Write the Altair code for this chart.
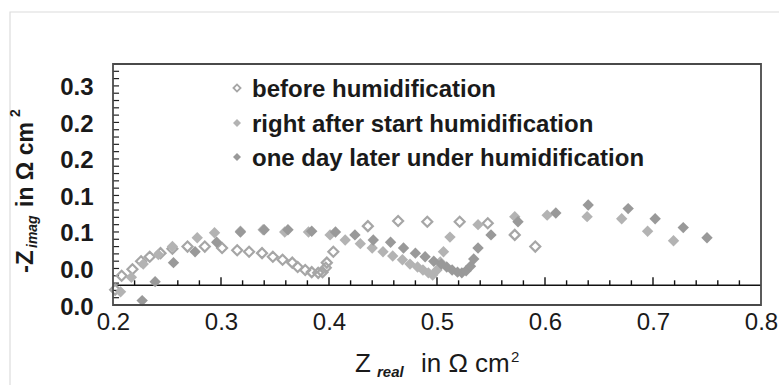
import altair as alt
import pandas as pd

FONT = "Liberation Sans"

SERIES = ["before humidification",
          "right after start humidification",
          "one day later under humidification"]

# before humidification (open diamonds)
before_x = [0.202, 0.208, 0.218, 0.226, 0.234, 0.244, 0.255, 0.269, 0.285, 0.301,
            0.315, 0.326, 0.338, 0.348, 0.357, 0.366, 0.371, 0.378, 0.384, 0.390,
            0.394, 0.397, 0.398, 0.404, 0.436, 0.464, 0.491, 0.521, 0.547, 0.572, 0.591]
before_y = [0.021, 0.040, 0.049, 0.060, 0.066, 0.071, 0.077, 0.080, 0.080, 0.078,
            0.075, 0.073, 0.071, 0.066, 0.062, 0.058, 0.052, 0.048, 0.045, 0.044,
            0.045, 0.051, 0.058, 0.073, 0.108, 0.115, 0.114, 0.114, 0.112, 0.096, 0.080]

# right after start humidification (light filled diamonds)
after_x = [0.207, 0.217, 0.228, 0.242, 0.255, 0.278, 0.294, 0.318, 0.339, 0.359,
           0.381, 0.401, 0.415, 0.429, 0.440, 0.450, 0.459, 0.468, 0.475, 0.482,
           0.487, 0.492, 0.496, 0.500, 0.503, 0.506, 0.512, 0.538, 0.572, 0.602,
           0.639, 0.671, 0.695, 0.719]
after_y = [0.018, 0.038, 0.056, 0.069, 0.080, 0.092, 0.099, 0.101, 0.103, 0.100,
           0.100, 0.096, 0.089, 0.084, 0.078, 0.073, 0.067, 0.062, 0.056, 0.052,
           0.048, 0.044, 0.041, 0.048, 0.059, 0.073, 0.093, 0.110, 0.121, 0.123,
           0.121, 0.118, 0.101, 0.088]

# one day later under humidification (darker filled diamonds)
day_x = [0.227, 0.239, 0.256, 0.276, 0.296, 0.318, 0.340, 0.362, 0.384, 0.406,
         0.424, 0.441, 0.457, 0.469, 0.480, 0.489, 0.497, 0.504, 0.509, 0.514,
         0.519, 0.523, 0.527, 0.531, 0.534, 0.538, 0.550, 0.575, 0.610, 0.640,
         0.677, 0.702, 0.728, 0.750]
day_y = [0.006, 0.032, 0.058, 0.073, 0.086, 0.100, 0.103, 0.103, 0.101, 0.100,
         0.096, 0.089, 0.086, 0.078, 0.071, 0.066, 0.060, 0.056, 0.052, 0.048,
         0.045, 0.044, 0.047, 0.053, 0.063, 0.078, 0.096, 0.114, 0.126, 0.137,
         0.132, 0.118, 0.106, 0.092]

X_TICK_VALUES = [0.2, 0.3, 0.4, 0.5, 0.6, 0.7, 0.8]
X_TICK_LABELS = ["0.2", "0.3", "0.4", "0.5", "0.6", "0.7", "0.8"]
Y_TICK_VALUES = [0.0, 0.05, 0.10, 0.15, 0.20, 0.25, 0.30]
Y_TICK_LABELS = ["0.0", "0.0", "0.1", "0.1", "0.2", "0.2", "0.3"]
X_CROSS = 0.027          # where the horizontal axis line crosses the y scale

# ---------- tables ----------
def series_df(xs, ys, name):
    return pd.DataFrame({"x": xs, "y": ys, "series": name})

df_before = series_df(before_x, before_y, SERIES[0])
df_after = series_df(after_x, after_y, SERIES[1])
df_day = series_df(day_x, day_y, SERIES[2])

# minor/major tick marks on the crossing x axis (drawn inward)
xt = []
for k in range(11, 40):
    v = round(k * 0.02, 2)
    major = abs(v * 10 - round(v * 10)) < 1e-9
    xt.append({"x": v, "y": X_CROSS, "y2": X_CROSS + (0.011 if major else 0.0068)})
df_xt = pd.DataFrame(xt)
yt = [{"x": 0.2, "x2": 0.2056, "y": round(k * 0.01, 2)} for k in range(1, 33)]
df_yt = pd.DataFrame(yt)
df_axis = pd.DataFrame({"x": [0.2], "x2": [0.8], "y": [X_CROSS]})

XS = alt.Scale(domain=[0.2, 0.8], nice=False, zero=False)
YS = alt.Scale(domain=[0.0, 0.33], nice=False, zero=False)

xlab_expr = "[" + ",".join("'%s'" % s for s in X_TICK_LABELS) + "][round((datum.value-0.2)*10)]"
ylab_expr = "[" + ",".join("'%s'" % s for s in Y_TICK_LABELS) + "][round(datum.value*20)]"

XAX = alt.Axis(values=X_TICK_VALUES, labelExpr=xlab_expr, ticks=False, domain=False,
               grid=False, title=None, labelFont=FONT, labelFontSize=24,
               labelColor="#1a1a1a", labelPadding=5, labelFlush=False,
               labelOverlap=False)
YAX = alt.Axis(values=Y_TICK_VALUES, labelExpr=ylab_expr, ticks=False, domain=False,
               grid=False, title=None, labelFont=FONT, labelFontSize=24,
               labelFontWeight="bold",
               labelColor="#1a1a1a", labelPadding=20, labelOffset=2,
               labelOverlap=False, labelFlush=False)


def X(f):
    return alt.X(f, type="quantitative", scale=XS, axis=XAX)


def Y(f):
    return alt.Y(f, type="quantitative", scale=YS, axis=YAX)


one = pd.DataFrame({"a": [0]})

border = alt.Chart(one).mark_rect(
    fill=None, stroke="#dcdcdc", strokeWidth=1.2, clip=False
).encode(x=alt.value(-103), x2=alt.value(700), y=alt.value(-52), y2=alt.value(360))

frame = alt.Chart(one).mark_rect(
    fill=None, stroke="#4a4a4a", strokeWidth=1.8, clip=False
).encode(x=alt.value(0), x2=alt.value(648), y=alt.value(0), y2=alt.value(241))

axis_line = alt.Chart(df_axis).mark_rule(color="#111111", strokeWidth=1.6).encode(
    x=X("x"), x2="x2", y=Y("y"))
xticks = alt.Chart(df_xt).mark_rule(color="#111111", strokeWidth=1.4).encode(
    x=X("x"), y=Y("y"), y2="y2")
yticks = alt.Chart(df_yt).mark_rule(color="#222222", strokeWidth=1.2).encode(
    x=X("x"), x2="x2", y=Y("y"))

pts_before = alt.Chart(df_before).mark_point(
    shape="diamond", filled=False, stroke="#a6a6a6", strokeWidth=2.2, size=100,
    opacity=1, clip=False).encode(x=X("x"), y=Y("y"))
pts_after = alt.Chart(df_after).mark_point(
    shape="diamond", filled=True, color="#b3b3b3", size=130, opacity=1,
    clip=False).encode(x=X("x"), y=Y("y"))
pts_day = alt.Chart(df_day).mark_point(
    shape="diamond", filled=True, color="#999999", size=130, opacity=1,
    clip=False).encode(x=X("x"), y=Y("y"))

# ---------- legend ----------
LEG_MARK_X = 124
LEG_TEXT_X = 139
LEG_MARK_Y = [24, 59, 93]
LEG_TEXT_Y = [33, 67.5, 101.5]
leg_layers = []
leg_styles = [
    dict(filled=False, stroke="#a6a6a6", strokeWidth=1.8, size=50),
    dict(filled=True, color="#b3b3b3", size=65),
    dict(filled=True, color="#999999", size=65),
]
for i, name in enumerate(SERIES):
    leg_layers.append(alt.Chart(one).mark_point(shape="diamond", opacity=1, **leg_styles[i])
                      .encode(x=alt.value(LEG_MARK_X), y=alt.value(LEG_MARK_Y[i])))
    leg_layers.append(alt.Chart(one).mark_text(
        text=name, font=FONT, fontSize=24, fontWeight="bold", color="#1a1a1a",
        align="left", baseline="alphabetic"
    ).encode(x=alt.value(LEG_TEXT_X), y=alt.value(LEG_TEXT_Y[i])))

# ---------- axis titles (with sub/superscripts) ----------
def txt(s, x, y, size, style="normal", weight="normal", angle=0):
    kw = dict(text=s, font=FONT, fontSize=size, color="#1a1a1a", align="left",
              baseline="alphabetic", fontStyle=style, fontWeight=weight)
    if angle:
        kw["angle"] = angle
    return alt.Chart(one).mark_text(**kw).encode(x=alt.value(x), y=alt.value(y))

titles = [
    txt("Z", 242, 308, 26),
    txt("real", 264, 313, 15, style="italic", weight="bold"),
    txt("in \u03a9 cm", 308, 308, 26),
    txt("2", 398, 298, 15),
    txt("-Z", -80, 209, 24, weight="bold", angle=270),
    txt("imag", -76, 184, 14, style="italic", weight="bold", angle=270),
    txt("in \u03a9 cm", -80, 143, 23, weight="bold", angle=270),
    txt("2", -93, 53, 14, weight="bold", angle=270),
]

chart = alt.layer(
    border, yticks, xticks, axis_line, pts_before, pts_after, pts_day, frame,
    *leg_layers, *titles
).properties(
    width=648, height=241,
    background="white",
    autosize=alt.AutoSizeParams(type="none"),
    padding={"left": 113, "top": 64, "right": 18, "bottom": 80},
).configure_view(
    stroke=None
)

chart.save("out.html", embed_options={"renderer": "svg", "actions": False})
